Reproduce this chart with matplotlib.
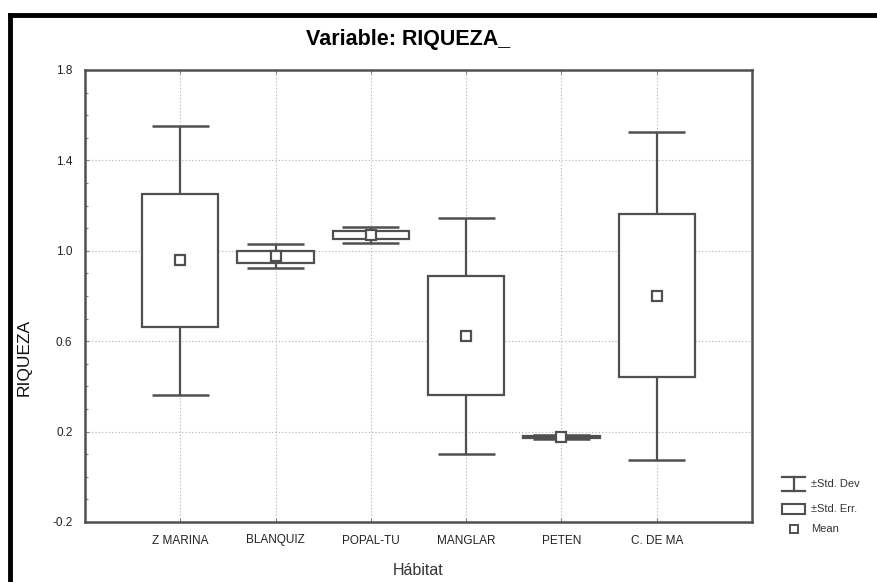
import matplotlib
matplotlib.use("Agg")
import matplotlib.pyplot as plt
from matplotlib.patches import Rectangle
from matplotlib.lines import Line2D
from matplotlib import font_manager
import numpy as np

habitats = ["Z MARINA", "BLANQUIZ", "POPAL-TU", "MANGLAR", "PETEN", "C. DE MA"]
means = [0.96, 0.977, 1.071, 0.622, 0.176, 0.80]
se_low = [0.662, 0.947, 1.053, 0.364, 0.172, 0.440]
se_high = [1.253, 1.000, 1.089, 0.889, 0.181, 1.164]
sd_low = [0.360, 0.924, 1.036, 0.102, 0.168, 0.076]
sd_high = [1.551, 1.031, 1.107, 1.147, 0.186, 1.524]
yticks = [-0.2, 0.2, 0.6, 1.0, 1.4, 1.8]
ytick_labels = ["-0.2", "0.2", "0.6", "1.0", "1.4", "1.8"]

names = {f.name for f in font_manager.fontManager.ttflist}
narrow = "Liberation Sans Narrow" if "Liberation Sans Narrow" in names else "Liberation Sans"
plt.rcParams["font.family"] = ["Liberation Sans", "DejaVu Sans"]

W, H = 877, 582
fig = plt.figure(figsize=(W / 100, H / 100), dpi=100)
ax = fig.add_axes([85 / W, 1 - 522 / H, (752 - 85) / W, (522 - 70) / H])

edge = "#505050"
x = np.arange(1, len(habitats) + 1)
box_w = 0.80
cap_w = 0.60

for xi, m, sl, sh, dl, dh in zip(x, means, se_low, se_high, sd_low, sd_high):
    ax.vlines(xi, dl, sl, color=edge, lw=1.6, zorder=3)
    ax.vlines(xi, sh, dh, color=edge, lw=1.6, zorder=3)
    ax.hlines([dl, dh], xi - cap_w / 2, xi + cap_w / 2, color=edge, lw=1.8, zorder=3)
    ax.add_patch(Rectangle((xi - box_w / 2, sl), box_w, sh - sl, facecolor="white",
                           edgecolor=edge, lw=1.6, zorder=4))
    ax.plot([xi], [m], marker="s", ms=7, mfc="white", mec=edge, mew=1.6, zorder=5, ls="none")

ax.set_xlim(0, len(habitats) + 1)
ax.set_ylim(-0.2, 1.8)
ax.set_xticks(x)
ax.set_xticklabels(habitats, family=narrow, fontsize=8.5, color="#222222")
ax.set_yticks(yticks)
ax.set_yticklabels(ytick_labels, family=narrow, fontsize=8.5, color="#222222")
ax.set_yticks(np.arange(-0.2, 1.81, 0.1), minor=True)
ax.tick_params(axis="both", which="major", direction="in", length=3, width=0.8, color="#888888",
               top=True, pad=9)
ax.tick_params(axis="y", which="minor", direction="in", length=2, width=0.8, color="#888888")
ax.tick_params(axis="x", which="minor", bottom=False)
ax.grid(True, which="major", ls=(0, (1, 2)), color="#b0b0b0", lw=0.8, zorder=0)
for s in ax.spines.values():
    s.set_color(edge)
    s.set_linewidth(1.8)

ax.set_xlabel("Hábitat", fontsize=11.5, color="#333333", labelpad=12)
ax.set_ylabel("RIQUEZA", fontsize=12.5, color="#111111")
ax.yaxis.set_label_coords(-0.08, 0.365)

fig.text(408 / W, 1 - 40 / H, "Variable: RIQUEZA_", ha="center", va="center",
         fontsize=15.5, fontweight="bold", family=narrow)

# outer frame
fig.add_artist(Line2D([10 / W, 10 / W], [0, 1 - 15 / H], transform=fig.transFigure,
                      color="black", lw=3.5, solid_capstyle="projecting"))
fig.add_artist(Line2D([10 / W, 1], [1 - 15 / H, 1 - 15 / H], transform=fig.transFigure,
                      color="black", lw=3.5, solid_capstyle="projecting"))

# legend
lx0, lx1 = 782 / W, 805 / W
def fy(p):
    return 1 - p / H
ly = 484
fig.add_artist(Line2D([lx0, lx1], [fy(ly - 7)] * 2, color=edge, lw=1.6))
fig.add_artist(Line2D([lx0, lx1], [fy(ly + 7)] * 2, color=edge, lw=1.6))
fig.add_artist(Line2D([(lx0 + lx1) / 2] * 2, [fy(ly - 7), fy(ly + 7)], color=edge, lw=1.6))
fig.text(811 / W, fy(ly), "±Std. Dev", fontsize=8, va="center", family=narrow, color="#333333")
ly2 = 509
fig.add_artist(Rectangle((lx0, fy(ly2 + 5)), lx1 - lx0, 10 / H, transform=fig.transFigure,
                         facecolor="white", edgecolor=edge, lw=1.5))
fig.text(811 / W, fy(ly2), "±Std. Err.", fontsize=8, va="center", family=narrow, color="#333333")
ly3 = 529
fig.add_artist(Line2D([(lx0 + lx1) / 2], [fy(ly3)], marker="s", ms=5.5, mfc="white", mec=edge,
                      mew=1.4, ls="none"))
fig.text(811 / W, fy(ly3), "Mean", fontsize=8, va="center", family=narrow, color="#333333")

fig.savefig("out.png", dpi=100)
